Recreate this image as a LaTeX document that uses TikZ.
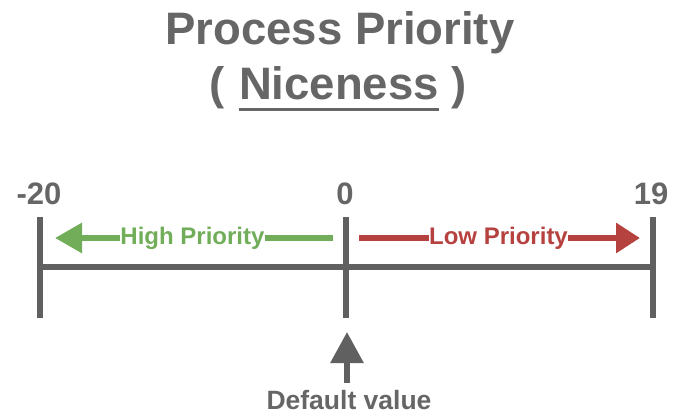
\documentclass[tikz,border=0pt]{standalone}
\usepackage{fontspec}
\setmainfont{Liberation Sans}
\usetikzlibrary{arrows.meta}
\definecolor{axisgray}{HTML}{606060}
\definecolor{textgray}{HTML}{666666}
\definecolor{hpgreen}{HTML}{72AE5A}
\definecolor{lpred}{HTML}{B6423F}
\tikzset{
  bar/.style={draw=axisgray, line width=6.5pt},
  numlbl/.style={anchor=base, inner sep=0pt, text=textgray, font=\bfseries\fontsize{31}{31}\selectfont},
  titlelbl/.style={anchor=base, inner sep=0pt, text=textgray, font=\bfseries\fontsize{45.5}{45.5}\selectfont},
  prilbl/.style={anchor=base, inner sep=0pt, font=\bfseries\fontsize{24}{24}\selectfont},
  priline/.style={line width=6pt},
}
\begin{document}
\begin{tikzpicture}[x=1pt,y=-1pt]
\useasboundingbox (0,0) rectangle (674,419);
% title
\node[titlelbl] (title) at (340,45) {Process Priority};
\node[titlelbl] (nice) at (339,100) {Niceness};
\node[titlelbl, anchor=base east] (lpar) at ([xshift=-14pt]nice.base west) {(};
\node[titlelbl, anchor=base west] (rpar) at ([xshift=12pt]nice.base east) {)};
\draw[draw=textgray, line width=3pt] ([yshift=-10pt]nice.base west) -- ([yshift=-10pt]nice.base east);
% numbers
\node[numlbl] (nm20) at (39,205) {-20};
\node[numlbl] (n0) at (345,205) {0};
\node[numlbl] (n19) at (651,205) {19};
% axis
\coordinate (lt) at (40,217);  \coordinate (lb) at (40,318);
\coordinate (mt) at (346,217); \coordinate (mb) at (346,318);
\coordinate (rt) at (653,217); \coordinate (rb) at (653,318);
\coordinate (hl) at (40,267);  \coordinate (hr) at (653,267);
\draw[bar] (lt) -- (lb);
\draw[bar] (mt) -- (mb);
\draw[bar] (rt) -- (rb);
\draw[draw=axisgray, line width=6pt] (hl) -- (hr);
% high priority
\node[prilbl, text=hpgreen] (hp) at (192.5,245) {High Priority};
\coordinate (hpstart) at (333,238);
\coordinate (hpend) at (55,238);
\draw[priline, draw=hpgreen] (hpstart) -- (hpstart -| hp.east);
\draw[priline, draw=hpgreen, -{Triangle[length=27pt,width=29pt]}] (hpend -| hp.west) -- (hpend);
% low priority
\node[prilbl, text=lpred] (lp) at (498.5,245) {Low Priority};
\coordinate (lpstart) at (359,238);
\coordinate (lpend) at (640,238);
\draw[priline, draw=lpred] (lpstart) -- (lpstart -| lp.west);
\draw[priline, draw=lpred, -{Triangle[length=24pt,width=29pt]}] (lpend -| lp.east) -- (lpend);
% default value
\node[prilbl, text=textgray, font=\bfseries\fontsize{26.5}{26.5}\selectfont] (dv) at (349,409) {Default value};
\coordinate (dvtip) at (347,332);
\coordinate (dvbase) at (347,383);
\draw[draw=axisgray, line width=6pt, -{Triangle[length=31pt,width=32pt]}] (dvbase) -- (dvtip);
\end{tikzpicture}
\end{document}
